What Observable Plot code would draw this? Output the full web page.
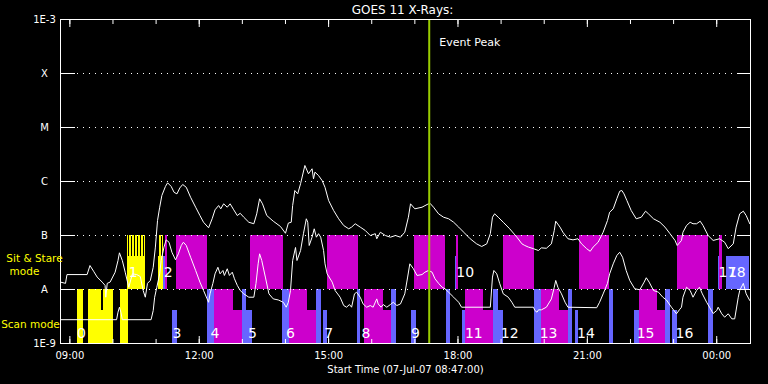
<!DOCTYPE html>
<html>
<head>
<meta charset="utf-8">
<script src="https://cdn.jsdelivr.net/npm/d3@7"></script>
<script src="https://cdn.jsdelivr.net/npm/@observablehq/plot@0.6"></script>
<style>
  html, body { margin: 0; padding: 0; background: #000; }
  #chart { width: 768px; height: 384px; overflow: hidden; }
</style>
</head>
<body>
<div id="chart"></div>
<script>
// ---------------- data ----------------
const title = "GOES 11 X-Rays:";
const xTitle = "Start Time (07-Jul-07 08:47:00)";
const startTime = "08:47";
const endTime = "00:47";
const eventPeak = "17:20";
const eventLabel = "Event Peak";

// GOES long channel (1-8 A), W/m^2
const goesLong = [
["08:47",1.37e-8],["08:54",1.30e-8],["08:56",1.89e-8],["09:24",1.89e-8],["09:28",2.78e-8],["09:33",2.18e-8],["09:38",1.70e-8],["09:45",1.37e-8],["09:49",1.19e-8],["09:50",7.2e-9],["09:52",1.30e-8],["09:56",1.37e-8],["10:03",2.09e-8],["10:07",3.44e-8],["10:09",4.78e-8],["10:13",3.44e-8],["10:17",2.09e-8],["10:22",1.10e-8],["10:27",1.95e-8],["10:33",1.89e-8],["10:38",1.74e-8],["10:42",9.6e-9],["10:45",7.2e-9],["10:48",1.30e-8],["10:52",1.47e-8],["10:56",2.58e-8],["10:59",6.1e-8],["11:02",1.89e-7],["11:05",3.34e-7],["11:08",5.5e-7],["11:13",8.1e-7],["11:16",9.45e-7],["11:21",8.1e-7],["11:25",6.3e-7],["11:29",5.9e-7],["11:33",7.6e-7],["11:37",8.8e-7],["11:42",7.8e-7],["11:48",5.1e-7],["11:55",3.34e-7],["12:01",2.34e-7],["12:06",1.76e-7],["12:13",1.39e-7],["12:18",2.04e-7],["12:22",2.99e-7],["12:27",3.59e-7],["12:30",3.12e-7],["12:34",3.86e-7],["12:39",3.34e-7],["12:43",3.86e-7],["12:48",2.99e-7],["12:53",2.34e-7],["12:57",2.58e-7],["13:02",2.18e-7],["13:09",1.76e-7],["13:16",1.65e-7],["13:20",2.52e-7],["13:24",4.78e-7],["13:28",3.86e-7],["13:34",2.34e-7],["13:43",1.84e-7],["13:53",1.47e-7],["14:00",1.10e-7],["14:04",1.70e-7],["14:08",1.76e-7],["14:10",3.59e-7],["14:13",6.81e-7],["14:17",5.9e-7],["14:21",9.1e-7],["14:27",1.98e-6],["14:32",1.39e-6],["14:37",1.72e-6],["14:39",1.12e-6],["14:41",1.49e-6],["14:46",1.29e-6],["14:51",1.04e-6],["14:55",7.8e-7],["15:00",4.45e-7],["15:07",2.90e-7],["15:14",2.04e-7],["15:21",1.53e-7],["15:28",1.33e-7],["15:32",1.43e-7],["15:37",1.65e-7],["15:44",1.43e-7],["15:51",1.24e-7],["15:58",1.0e-7],["16:05",1.08e-7],["16:07",8.7e-8],["16:12",1.15e-7],["16:19",1.0e-7],["16:26",9.3e-8],["16:33",1.0e-7],["16:40",9.3e-8],["16:46",1.15e-7],["16:51",2.18e-7],["16:54",3.86e-7],["17:00",3.12e-7],["17:10",3.34e-7],["17:17",3.75e-7],["17:21",3.96e-7],["17:26",3.34e-7],["17:33",2.52e-7],["17:40",2.18e-7],["17:47",2.04e-7],["17:54",1.76e-7],["18:01",1.43e-7],["18:08",1.15e-7],["18:17",8.7e-8],["18:26",7.0e-8],["18:33",6.26e-8],["18:40",7.0e-8],["18:45",1.08e-7],["18:48",2.18e-7],["18:51",2.52e-7],["18:56",2.18e-7],["19:03",1.76e-7],["19:12",1.33e-7],["19:22",9.3e-8],["19:29",7.0e-8],["19:33",6.53e-8],["19:38",6.1e-8],["19:45",5.7e-8],["19:52",5.27e-8],["19:56",5.9e-8],["20:03",5.8e-8],["20:10",7.0e-8],["20:14",1.24e-7],["20:16",1.84e-7],["20:22",1.43e-7],["20:26",1.15e-7],["20:33",8.7e-8],["20:40",8.3e-8],["20:47",8.7e-8],["20:52",7.0e-8],["20:59",5.7e-8],["21:04",5.1e-8],["21:08",6.1e-8],["21:15",7.5e-8],["21:22",1.15e-7],["21:28",1.89e-7],["21:31",2.70e-7],["21:36",3.12e-7],["21:41",4.78e-7],["21:45",6.6e-7],["21:48",6.81e-7],["21:51",5.9e-7],["21:55",4.45e-7],["22:01",2.90e-7],["22:08",2.04e-7],["22:15",2.18e-7],["22:21",2.82e-7],["22:25",2.52e-7],["22:32",2.04e-7],["22:41",1.76e-7],["22:48",1.43e-7],["22:55",1.08e-7],["23:02",8.1e-8],["23:05",6.53e-8],["23:11",8.1e-8],["23:13",1.15e-7],["23:18",1.53e-7],["23:23",1.76e-7],["23:27",1.65e-7],["23:32",1.65e-7],["23:37",1.84e-7],["23:41",1.53e-7],["23:48",1.0e-7],["23:55",8.1e-8],["00:04",8.7e-8],["00:11",7.5e-8],["00:16",5.7e-8],["00:23",7.0e-8],["00:27",1.43e-7],["00:32",2.52e-7],["00:37",2.82e-7],["00:41",2.34e-7],["00:46",1.65e-7]
];

// GOES short channel (0.5-4 A), W/m^2
const goesShort = [
["08:47",2.76e-9],["10:05",2.76e-9],["10:07",3.8e-9],["10:09",4.7e-9],["10:11",3.8e-9],["10:13",2.76e-9],["10:53",2.76e-9],["10:56",4.08e-9],["10:58",7.2e-9],["11:01",1.10e-8],["11:05",1.95e-8],["11:07",3.44e-8],["11:11",6.1e-8],["11:14",8.3e-8],["11:18",7.5e-8],["11:22",4.9e-8],["11:27",3.55e-8],["11:31",4.58e-8],["11:35",6.53e-8],["11:38",7.5e-8],["11:42",6.53e-8],["11:48",3.96e-8],["11:55",2.25e-8],["12:01",1.37e-8],["12:06",9.6e-9],["12:11",6.7e-9],["12:13",5.8e-9],["12:15",8.3e-9],["12:19",1.30e-8],["12:22",1.95e-8],["12:26",2.58e-8],["12:29",1.95e-8],["12:33",2.25e-8],["12:35",1.82e-8],["12:39",2.42e-8],["12:42",1.82e-8],["12:46",2.09e-8],["12:49",1.58e-8],["12:53",1.19e-8],["12:57",9.6e-9],["13:02",8.3e-9],["13:09",7.2e-9],["13:16",7.2e-9],["13:19",1.30e-8],["13:22",2.99e-8],["13:24",4.58e-8],["13:27",3.44e-8],["13:32",1.70e-8],["13:37",8.3e-9],["13:43",6.7e-9],["13:50",6.4e-9],["13:57",5.8e-9],["14:01",4.7e-9],["14:04",5.8e-9],["14:07",9.6e-9],["14:10",3.44e-8],["14:14",6.0e-8],["14:16",3.44e-8],["14:21",5.27e-8],["14:25",1.08e-7],["14:29",2.04e-7],["14:31",1.76e-7],["14:33",6.53e-8],["14:37",9.3e-8],["14:40",1.33e-7],["14:43",9.3e-8],["14:46",1.08e-7],["14:49",9.3e-8],["14:53",5.27e-8],["14:55",2.99e-8],["14:58",1.95e-8],["15:05",1.37e-8],["15:09",9.6e-9],["15:16",7.2e-9],["15:21",5.05e-9],["15:25",4.7e-9],["15:29",5.27e-9],["15:32",4.7e-9],["15:36",8.3e-9],["15:39",8.9e-9],["15:44",7.2e-9],["15:48",5.4e-9],["15:53",4.7e-9],["15:58",5.05e-9],["16:02",4.7e-9],["16:07",6.7e-9],["16:09",5.4e-9],["16:13",4.7e-9],["16:16",5.27e-9],["16:21",4.7e-9],["16:26",5.27e-9],["16:30",5.8e-9],["16:35",5.05e-9],["16:40",5.4e-9],["16:46",8.3e-9],["16:50",1.70e-8],["16:53",2.99e-8],["16:58",2.42e-8],["17:03",1.82e-8],["17:10",1.89e-8],["17:14",2.09e-8],["17:19",2.25e-8],["17:24",2.09e-8],["17:28",1.58e-8],["17:33",1.30e-8],["17:38",1.10e-8],["17:42",1.03e-8],["17:47",8.9e-9],["17:54",7.2e-9],["18:01",5.8e-9],["18:05",4.7e-9],["18:45",4.7e-9],["18:48",1.70e-8],["18:50",2.25e-8],["18:54",1.95e-8],["18:58",1.30e-8],["19:03",8.3e-9],["19:10",7.2e-9],["19:15",5.8e-9],["19:19",4.7e-9],["19:45",4.7e-9],["19:47",4.08e-9],["19:50",3.8e-9],["19:52",4.2e-9],["19:56",4.2e-9],["20:03",4.7e-9],["20:10",6.7e-9],["20:14",1.10e-8],["20:16",1.47e-8],["20:19",1.10e-8],["20:24",8.3e-9],["20:29",5.8e-9],["20:33",4.7e-9],["21:13",4.6e-9],["21:17",5.8e-9],["21:22",8.3e-9],["21:28",1.30e-8],["21:31",1.95e-8],["21:36",2.99e-8],["21:41",4.26e-8],["21:45",4.9e-8],["21:49",3.96e-8],["21:54",2.25e-8],["21:59",1.47e-8],["22:06",1.03e-8],["22:13",9.9e-9],["22:19",1.37e-8],["22:22",1.65e-8],["22:26",1.37e-8],["22:32",9.6e-9],["22:39",8.9e-9],["22:45",7.2e-9],["22:50",6.4e-9],["22:57",4.7e-9],["23:04",3.55e-9],["23:08",4.2e-9],["23:11",4.7e-9],["23:13",7.2e-9],["23:18",1.10e-8],["23:23",9.6e-9],["23:27",7.2e-9],["23:32",9.6e-9],["23:36",1.10e-8],["23:40",8.3e-9],["23:46",5.8e-9],["23:50",4.7e-9],["23:55",3.6e-9],["00:00",4.08e-9],["00:02",4.7e-9],["00:07",3.55e-9],["00:11",3.07e-9],["00:16",3.55e-9],["00:21",2.86e-9],["00:25",2.86e-9],["00:30",7.2e-9],["00:32",9.6e-9],["00:37",1.30e-8],["00:41",8.3e-9],["00:46",6.26e-9]
];

// observation intervals: [start, end, kind, coverage]
const scanObs = [
["09:11","09:19","yellow","full"],["09:26","09:44","yellow","full"],["09:44","09:47","yellow","part"],["09:47","10:01","yellow","full"],["10:10","10:22","yellow","full"],
["11:23","11:30","blue","part"],
["12:11","12:21","blue","full"],["12:21","12:47","magenta","full"],["12:47","13:00","magenta","part"],["13:00","13:06","blue","full"],["13:06","13:14","blue","part"],
["13:56","14:05","blue","full"],["14:05","14:30","magenta","full"],["14:30","14:43","magenta","part"],["14:43","14:50","blue","full"],["14:53","14:58","blue","part"],
["15:40","15:45","blue","full"],["15:50","16:16","magenta","full"],["16:16","16:28","magenta","part"],["16:28","16:35","blue","full"],
["16:55","17:02","blue","part"],
["17:44","17:50","blue","full"],["18:06","18:11","blue","part"],["18:11","18:36","magenta","full"],["18:36","18:49","magenta","part"],["18:49","18:56","blue","full"],["18:57","19:04","blue","part"],
["19:46","19:56","blue","full"],["19:56","20:21","magenta","full"],["20:21","20:34","magenta","part"],["20:34","20:40","blue","full"],["20:43","20:48","blue","part"],
["21:31","21:37","blue","full"],
["22:06","22:12","blue","part"],["22:12","22:37","magenta","full"],["22:37","22:49","magenta","part"],["22:49","22:56","blue","full"],["22:59","23:06","blue","part"],
["23:48","23:55","blue","full"]
];
const stareObs = [
["10:20","10:45","yellow","full"],["11:03","11:10","yellow","full"],["11:10","11:13","blue","part"],["11:13","11:16","magenta","full"],
["11:28","12:11","magenta","full"],["13:12","13:57","magenta","full"],["14:58","15:41","magenta","full"],["17:00","17:43","magenta","full"],
["17:56","17:58","blue","part"],["17:58","18:01","magenta","full"],["19:03","19:47","magenta","full"],["20:49","21:31","magenta","full"],
["23:05","23:49","magenta","full"],["00:03","00:04","blue","part"],["00:04","00:08","magenta","full"],["00:14","00:46","blue","part"]
];
// observation numbers: [time, row, label]
const obsLabels = [
["09:16","scan","0"],["10:28","stare","1"],["11:17","stare","2"],["11:29","scan","3"],["12:22","scan","4"],["13:14","scan","5"],
["14:07","scan","6"],["15:00","scan","7"],["15:52","scan","8"],["17:01","scan","9"],["18:10","stare","10"],["18:22","scan","11"],
["19:12","scan","12"],["20:06","scan","13"],["20:58","scan","14"],["22:21","scan","15"],["23:15","scan","16"],["00:15","stare","17"],["00:28","stare","18"]
];
const levelValues = [1e-9, 1e-8, 1e-7, 1e-6, 1e-5, 1e-4, 1e-3];
const levelLabels = ["1E-9", "A", "B", "C", "M", "X", "1E-3"];
// row captions: [text, row, horizontal offset from axis, vertical nudge]
const rowCaptions = [["Sit & Stare", "stare", -26, -4], ["mode", "stare", -36, 9], ["Scan mode", "scan", -30, 8]];

// ---------------- helpers ----------------
const toDate = s => { const [h, m] = s.split(":").map(Number); return new Date(Date.UTC(2007, 6, h < 8 ? 8 : 7, h, m)); };
const colors = { yellow: "#ffff00", magenta: "#cc00cc", blue: "#6666ff" };
const ROW = { scan: [1e-9, 1e-8], stare: [1e-8, 1e-7] };
const rowMid = r => Math.sqrt(ROW[r][0] * ROW[r][1]);
const partTop = lo => lo * Math.pow(10, 1 - 21 / 54);
const FONT = "DejaVu Sans, sans-serif";

const x0 = toDate(startTime), x1 = toDate(endTime);
const hours1 = d3.utcHour.range(x0, x1);
const hours3 = hours1.filter(d => d.getUTCHours() % 3 === 0);
const levels = levelValues.map((v, i) => ({ v, label: levelLabels[i] }));
const inner = levelValues.slice(1, -1);

const bars = [];
for (const [s, e, k, c] of scanObs) bars.push({ x1: toDate(s), x2: toDate(e), y1: ROW.scan[0], y2: c === "full" ? ROW.scan[1] : partTop(ROW.scan[0]), k });
for (const [s, e, k, c] of stareObs) {
  const top = (k === "yellow" || c !== "full") ? partTop(ROW.stare[0]) : ROW.stare[1];
  bars.push({ x1: toDate(s), x2: toDate(e), y1: ROW.stare[0], y2: top, k });
}
const stripes = stareObs.filter(d => d[2] === "yellow").map(([s, e]) => ({ x1: toDate(s), x2: toDate(e), y1: partTop(ROW.stare[0]), y2: ROW.stare[1] }));

const captionMarks = rowCaptions.map(([t, r, dx, dy]) =>
  Plot.text([t], { y: () => rowMid(r), frameAnchor: "left", dx, dy, textAnchor: "middle", fill: "#ffff00", fontSize: 10.5 })
);

const chart = Plot.plot({
  width: 768, height: 384,
  marginLeft: 60, marginRight: 18, marginTop: 19, marginBottom: 41,
  style: { background: "#000", color: "#fff", fontFamily: FONT, fontSize: "10px", overflow: "visible" },
  x: { type: "utc", domain: [x0, x1] },
  y: { type: "log", domain: [1e-9, 1e-3] },
  marks: [
    Plot.rect(bars, { x1: "x1", x2: "x2", y1: "y1", y2: "y2", fill: d => colors[d.k], shapeRendering: "crispEdges" }),
    Plot.rect(stripes, { x1: "x1", x2: "x2", y1: "y1", y2: "y2", fill: "url(#yellowStripes)", shapeRendering: "crispEdges" }),
    Plot.ruleY(inner, { stroke: "#fff", strokeDasharray: "1 5", insetLeft: 17, insetRight: 14 }),
    Plot.line(goesShort, { x: d => toDate(d[0]), y: d => d[1], stroke: "#fff", strokeWidth: 1 }),
    Plot.line(goesLong, { x: d => toDate(d[0]), y: d => d[1], stroke: "#fff", strokeWidth: 1 }),
    Plot.ruleX([eventPeak], { x: d => toDate(d), stroke: "#99cc00", strokeWidth: 2 }),
    Plot.text([eventLabel], { x: () => toDate(eventPeak), frameAnchor: "top", dy: 19, dx: 10, textAnchor: "start", fill: "#fff", fontSize: 11 }),
    Plot.text(obsLabels, { x: d => toDate(d[0]), y: d => d[1] === "scan" ? 1.53e-9 : 2.07e-8, text: d => d[2], fill: "#fff", fontSize: 14 }),
    Plot.frame({ stroke: "#fff" }),
    // y ticks (inward) and labels
    Plot.axisY({ anchor: "left", ticks: inner, tickSize: -15, fill: "none", stroke: "#fff", label: null }),
    Plot.axisY({ anchor: "right", ticks: inner, tickSize: -14, fill: "none", stroke: "#fff", label: null }),
    Plot.text(levels, { y: "v", text: "label", frameAnchor: "left", dx: -16, textAnchor: "middle", fill: "#fff", fontSize: 10 }),
    // x ticks (inward) and labels
    Plot.axisX({ anchor: "bottom", ticks: hours1, tickSize: -4, fill: "none", stroke: "#fff", label: null }),
    Plot.axisX({ anchor: "bottom", ticks: hours3, tickSize: -7, fill: "none", stroke: "#fff", label: null }),
    Plot.axisX({ anchor: "top", ticks: hours1, tickSize: -4, fill: "none", stroke: "#fff", label: null }),
    Plot.axisX({ anchor: "top", ticks: hours3, tickSize: -7, fill: "none", stroke: "#fff", label: null }),
    Plot.axisX({ anchor: "bottom", ticks: hours3, tickSize: 0, tickPadding: 8, tickFormat: d3.utcFormat("%H:%M"), fill: "#fff", label: null }),
    Plot.text([xTitle], { frameAnchor: "bottom", dy: 29, fill: "#fff", fontSize: 10 }),
    Plot.text([title], { frameAnchor: "top", dy: -14, dx: -3, fill: "#fff", fontSize: 12 }),
    ...captionMarks
  ]
});

// stripe pattern for the sit & stare intervals drawn hatched
const ns = "http://www.w3.org/2000/svg";
const defs = document.createElementNS(ns, "defs");
const pat = document.createElementNS(ns, "pattern");
pat.setAttribute("id", "yellowStripes");
pat.setAttribute("patternUnits", "userSpaceOnUse");
pat.setAttribute("width", "3"); pat.setAttribute("height", "10");
const pr = document.createElementNS(ns, "rect");
pr.setAttribute("width", "2"); pr.setAttribute("height", "10"); pr.setAttribute("fill", "#ffff00");
pat.appendChild(pr); defs.appendChild(pat);
chart.insertBefore(defs, chart.firstChild);

document.getElementById("chart").appendChild(chart);
</script>
</body>
</html>
